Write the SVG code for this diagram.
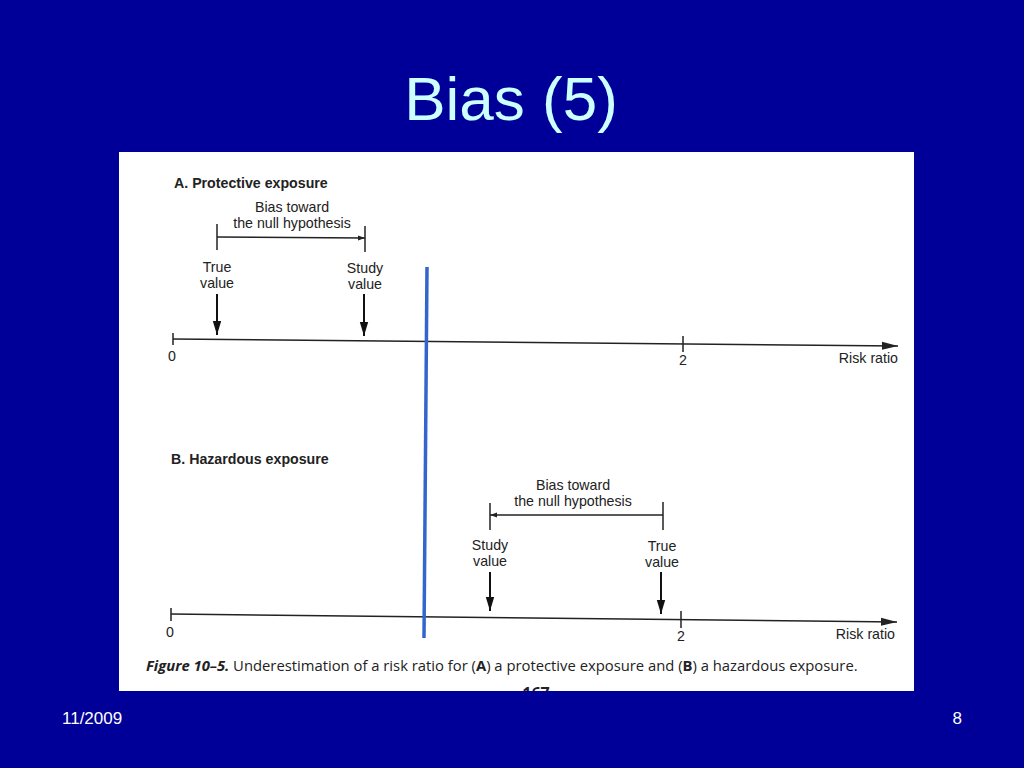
<svg xmlns="http://www.w3.org/2000/svg" width="1024" height="768" viewBox="0 0 1024 768">
<defs>
<style>
.fig{font-family:"Liberation Sans",Arial,sans-serif;fill:#222;}
.lbl{font-size:14.2px;text-anchor:middle;}
.hd{font-size:14.2px;font-weight:bold;}
.ln{stroke:#222;stroke-width:1.5;fill:none;}
.cap{font-family:"Open Sans","Liberation Sans",sans-serif;font-size:14.8px;fill:#222;}
</style>
<marker id="ah" viewBox="0 0 10 10" refX="10" refY="5" markerWidth="7" markerHeight="7" markerUnits="userSpaceOnUse" orient="auto"><path d="M0,1.5 L10,5 L0,8.5 Z" fill="#222"/></marker>
<marker id="axh" viewBox="0 0 10 10" refX="10" refY="5" markerWidth="16" markerHeight="16" markerUnits="userSpaceOnUse" orient="auto"><path d="M0,2.5 L10,5 L0,7.5 Z" fill="#222"/></marker>
<marker id="dh" viewBox="0 0 10 10" refX="10" refY="5" markerWidth="14" markerHeight="14" markerUnits="userSpaceOnUse" orient="auto"><path d="M0,2 L10,5 L0,8 Z" fill="#111"/></marker>
<clipPath id="pc"><rect x="119" y="152" width="795" height="539"/></clipPath>
</defs>
<rect width="1024" height="768" fill="#000099"/>
<text x="511" y="120" font-family="Liberation Sans,Arial,sans-serif" font-size="62" fill="#CCFFFF" text-anchor="middle">Bias (5)</text>
<text x="62" y="724" font-family="Liberation Sans,Arial,sans-serif" font-size="17" fill="#fff">11/2009</text>
<text x="962" y="724" font-family="Liberation Sans,Arial,sans-serif" font-size="17" fill="#fff" text-anchor="end">8</text>
<rect x="119" y="152" width="795" height="539" fill="#fff"/>
<g id="panelA" class="fig">
<text class="fig hd" x="174" y="188">A. Protective exposure</text>
<text class="fig lbl" x="292" y="212">Bias toward</text>
<text class="fig lbl" x="292" y="228">the null hypothesis</text>
<text class="fig lbl" x="217" y="272">True</text>
<text class="fig lbl" x="217" y="288">value</text>
<text class="fig lbl" x="365" y="273">Study</text>
<text class="fig lbl" x="365" y="289">value</text>
<text class="fig lbl" x="172" y="361">0</text>
<text class="fig lbl" x="683" y="365">2</text>
<text class="fig" x="898" y="363" font-size="14.2" text-anchor="end">Risk ratio</text>
</g>
<g id="panelB" class="fig">
<text class="fig hd" x="171" y="464">B. Hazardous exposure</text>
<text class="fig lbl" x="573" y="490">Bias toward</text>
<text class="fig lbl" x="573" y="506">the null hypothesis</text>
<text class="fig lbl" x="490" y="550">Study</text>
<text class="fig lbl" x="490" y="566">value</text>
<text class="fig lbl" x="662" y="551">True</text>
<text class="fig lbl" x="662" y="567">value</text>
<text class="fig lbl" x="170" y="637">0</text>
<text class="fig lbl" x="681" y="641">2</text>
<text class="fig" x="895" y="639" font-size="14.2" text-anchor="end">Risk ratio</text>
</g>
<g id="connectors">
<line class="ln" x1="173" y1="339" x2="898" y2="346" marker-end="url(#axh)"/>
<line class="ln" x1="173" y1="333" x2="173" y2="345"/>
<line class="ln" x1="683" y1="336" x2="683" y2="352"/>
<line class="ln" x1="217" y1="224" x2="217" y2="250"/>
<line class="ln" x1="365" y1="226" x2="365" y2="252"/>
<line class="ln" x1="217" y1="237" x2="365" y2="238" marker-end="url(#ah)"/>
<line x1="217" y1="294" x2="217" y2="335" stroke="#111" stroke-width="2" marker-end="url(#dh)"/>
<line x1="364" y1="294" x2="364" y2="336" stroke="#111" stroke-width="2" marker-end="url(#dh)"/>
<line class="ln" x1="171" y1="614" x2="897" y2="622" marker-end="url(#axh)"/>
<line class="ln" x1="171" y1="608" x2="171" y2="621"/>
<line class="ln" x1="681" y1="611" x2="681" y2="628"/>
<line class="ln" x1="490" y1="503" x2="490" y2="530"/>
<line class="ln" x1="663" y1="502" x2="663" y2="530"/>
<line class="ln" x1="663" y1="515" x2="490" y2="515" marker-end="url(#ah)"/>
<line x1="490" y1="572" x2="490" y2="611" stroke="#111" stroke-width="2" marker-end="url(#dh)"/>
<line x1="661" y1="572" x2="661" y2="614" stroke="#111" stroke-width="2" marker-end="url(#dh)"/>
</g>
<g id="caption">
<text class="cap" x="146" y="671"><tspan font-weight="bold" font-style="italic">Figure 10–5.</tspan>  Underestimation of a risk ratio for (<tspan font-weight="bold">A</tspan>) a protective exposure and (<tspan font-weight="bold">B</tspan>) a hazardous exposure.</text>
<text clip-path="url(#pc)" x="536" y="699" font-family="Open Sans,Liberation Sans,sans-serif" font-size="16" font-weight="bold" fill="#222" text-anchor="middle">167</text>
</g>
<line id="null-line" x1="427" y1="267" x2="424" y2="638" stroke="#3366CC" stroke-width="3.5"/>
</svg>
